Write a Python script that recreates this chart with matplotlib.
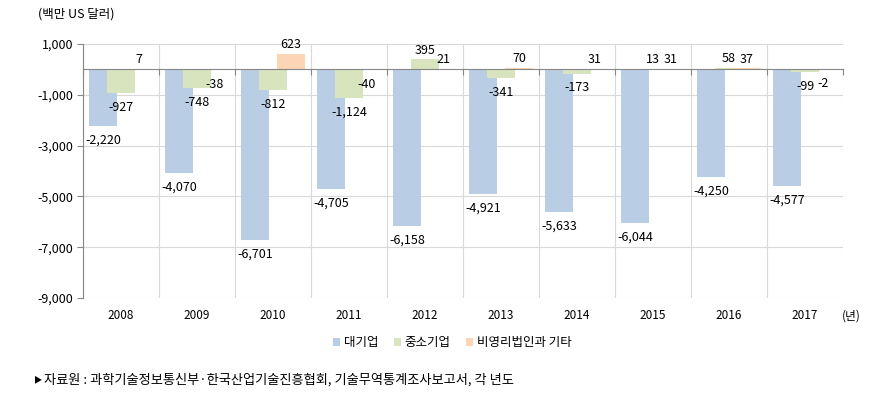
import matplotlib.pyplot as plt
import numpy as np

plt.rcParams["font.family"] = ["Noto Sans CJK KR", "DejaVu Sans"]

years = ["2008", "2009", "2010", "2011", "2012", "2013", "2014", "2015", "2016", "2017"]
large = [-2220, -4070, -6701, -4705, -6158, -4921, -5633, -6044, -4250, -4577]
sme = [-927, -748, -812, -1124, 395, -341, -173, 13, 58, -99]
nonprofit = [7, -38, 623, -40, 21, 70, 31, 31, 37, -2]
series_names = ["대기업", "중소기업", "비영리법인과 기타"]
colors = ["#B9CDE5", "#D7E4BD", "#FCD5B5"]

fig = plt.figure(figsize=(8.87, 4.04), dpi=100)
ax = fig.add_axes([0.0936, 0.2624, 0.8568, 0.6286])

x = np.arange(len(years))
offsets = [-0.237, 0.0, 0.237]
width = 0.38

for i, (vals, name, c) in enumerate(zip([large, sme, nonprofit], series_names, colors)):
    ax.bar(x + offsets[i], vals, width, color=c, label=name, zorder=2 + i)
    for xi, v in zip(x + offsets[i], vals):
        if v >= 0:
            ax.annotate(f"{v:,}", (xi, v), xytext=(0, 2), textcoords="offset points",
                        ha="center", va="bottom", fontsize=9, zorder=10)
        else:
            ax.annotate(f"{v:,}", (xi, v), xytext=(0, -5.5), textcoords="offset points",
                        ha="center", va="top", fontsize=9, zorder=10)

ax.set_xlim(-0.5, len(years) - 0.5)
ax.set_ylim(-9000, 1000)
ax.set_yticks(range(-9000, 1001, 2000))
ax.set_yticklabels([f"{v:,}" for v in range(-9000, 1001, 2000)], fontsize=9)
ax.grid(axis="y", color="#D9D9D9", linewidth=0.8, zorder=0)

# 구간 경계선
bounds = np.arange(-0.5, len(years), 1.0)
for b in bounds:
    ax.axvline(b, color="#D9D9D9", linewidth=0.8, zorder=0)

ax.spines["top"].set_visible(False)
ax.spines["right"].set_visible(False)
ax.spines["left"].set_color("#868686")
ax.spines["bottom"].set_position(("data", 0))
ax.spines["bottom"].set_color("#868686")
ax.spines["bottom"].set_zorder(8)
ax.set_xticks(bounds)
ax.set_xticklabels([])
ax.tick_params(axis="x", length=4, color="#868686", direction="out")
ax.tick_params(axis="y", length=4, color="#868686", pad=3)

for xi, yr in zip(x, years):
    ax.text(xi, -0.045, yr, transform=ax.get_xaxis_transform(), ha="center", va="top", fontsize=8.5)
ax.text(0.999, -0.045, "(년)", transform=ax.transAxes, ha="left", va="top", fontsize=8.5)

fig.text(0.043, 0.965, "(백만 US 달러)", ha="left", va="center", fontsize=9)

fig.legend(loc="center", bbox_to_anchor=(0.51, 0.151), ncol=3, frameon=False,
           fontsize=9, handlelength=0.6, handleheight=0.6, handletextpad=0.3, columnspacing=1.2)

fig.text(0.038, 0.06, "▶", ha="left", va="center", fontsize=6)
fig.text(0.05, 0.06, "자료원 : 과학기술정보통신부·한국산업기술진흥협회, 기술무역통계조사보고서, 각 년도",
         ha="left", va="center", fontsize=9.5)

fig.savefig("out.png", dpi=100)
